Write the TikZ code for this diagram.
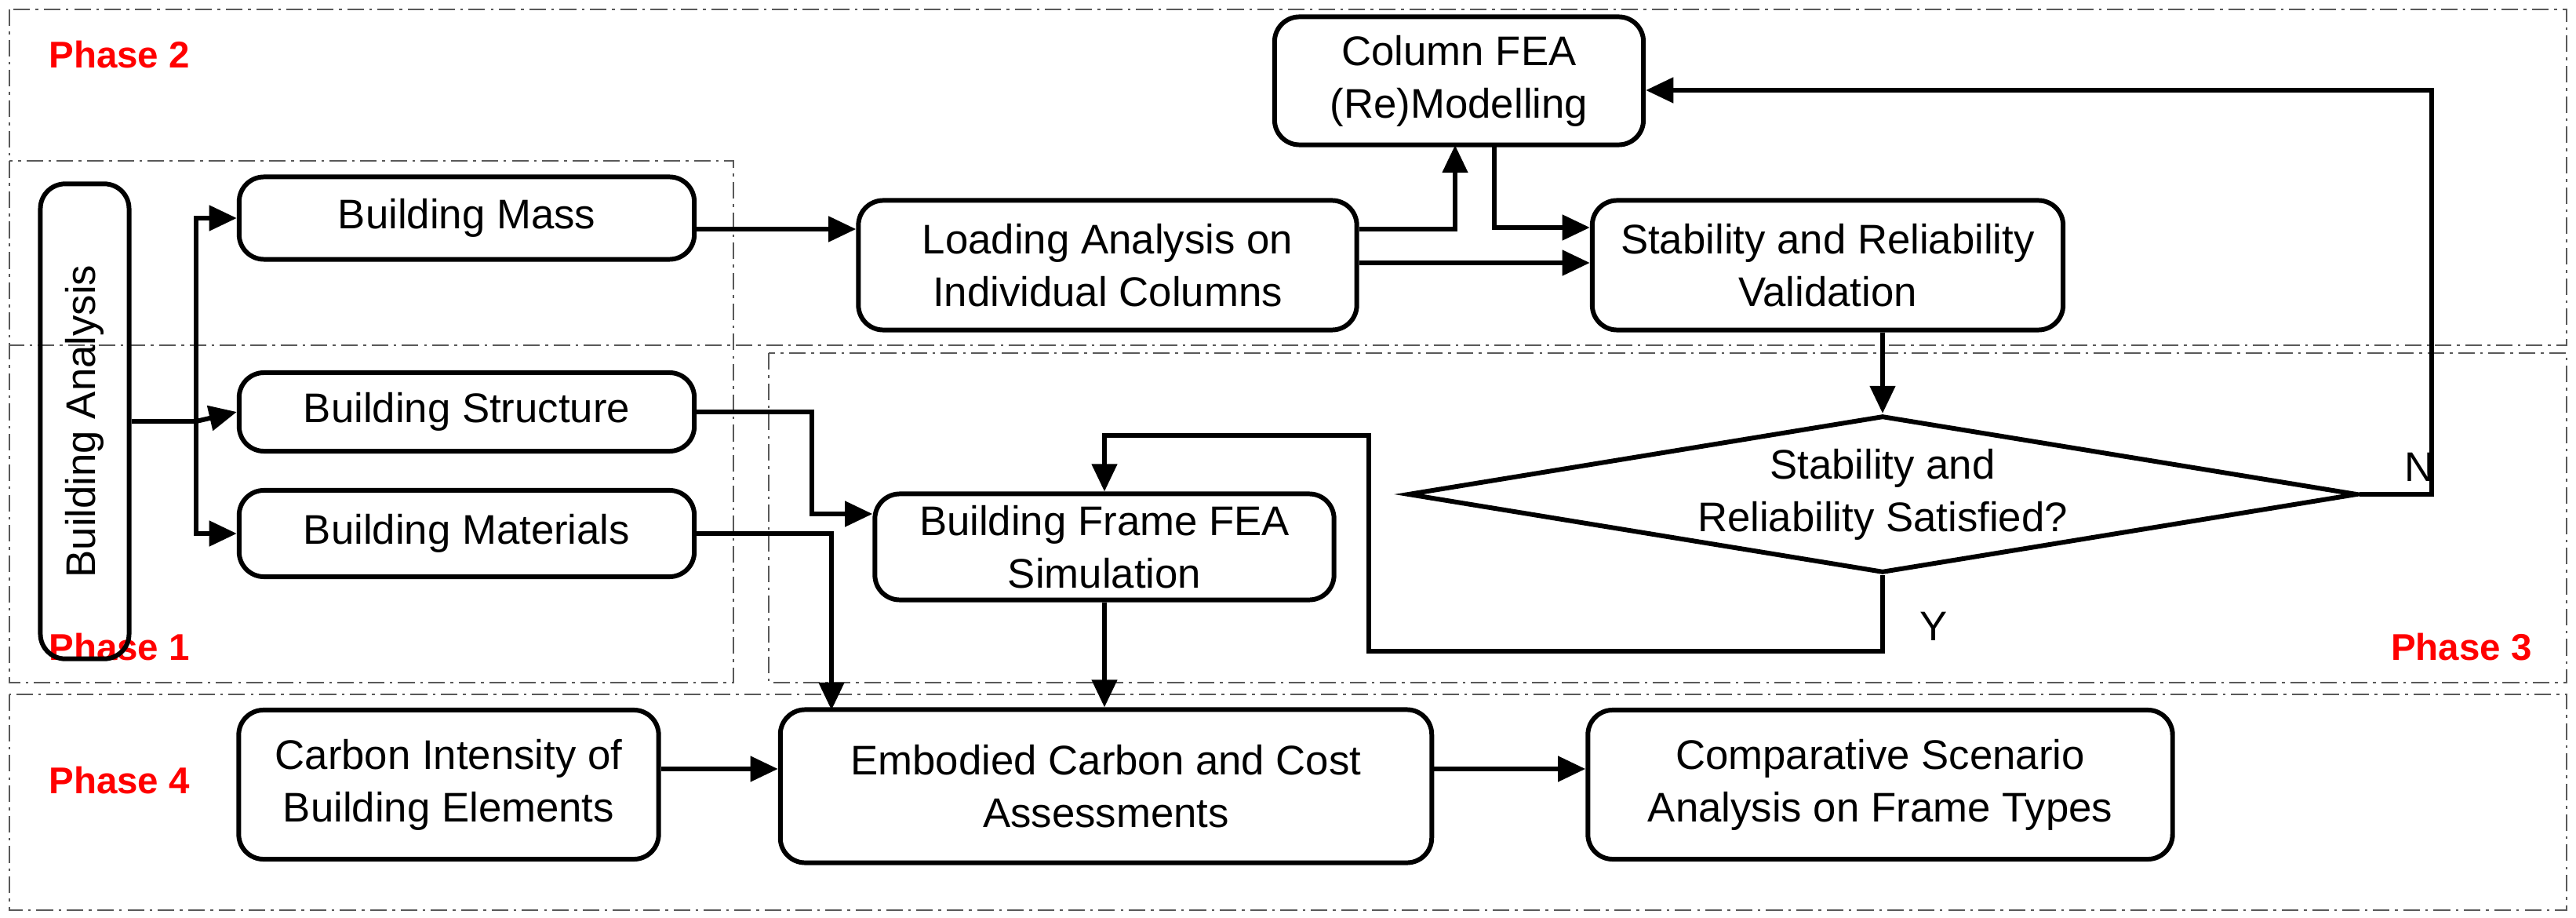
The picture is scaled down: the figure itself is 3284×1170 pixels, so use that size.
\documentclass[tikz,border=0pt]{standalone}
\usepackage{fontspec}
\setmainfont{Liberation Sans}
\usetikzlibrary{shapes.geometric,arrows.meta}
\begin{document}
\begin{tikzpicture}[x=0.01cm,y=-0.01cm,
  box/.style={draw,line width=1.7pt,rounded corners=9pt,align=center,font=\fontsize{15}{19}\selectfont,inner sep=0pt},
  arr/.style={line width=1.7pt,-{Triangle[length=10pt,width=9pt]}},
  ln/.style={line width=1.7pt},
  zone/.style={draw,gray!70!black,line width=0.6pt,dash pattern=on 6pt off 2pt on 1pt off 2pt},
  ph/.style={text=red,font=\fontsize{13.5}{16}\selectfont\bfseries}]
\useasboundingbox (0,0) rectangle (3284,1170);
\draw[zone] (12,12) rectangle (3272,440);
\draw[zone] (12,205) rectangle (935,870);
\draw[zone] (980,450) rectangle (3272,870);
\draw[zone] (12,885) rectangle (3272,1160);
\node[ph,anchor=west] (p2) at (50,70) {Phase 2};
\node[ph,anchor=west] (p1) at (50,825) {Phase 1};
\node[ph,anchor=east] (p3) at (3240,825) {Phase 3};
\node[ph,anchor=west] (p4) at (50,995) {Phase 4};
% nodes
\node[box,rotate=90,minimum width=6.05cm,minimum height=1.13cm] (ba) at (108,537) {Building Analysis};
\node[box,minimum width=5.8cm,minimum height=1.05cm] (bm) at (595,278) {Building Mass};
\node[box,minimum width=5.8cm,minimum height=1.0cm] (bs) at (595,525) {Building Structure};
\node[box,minimum width=5.8cm,minimum height=1.1cm] (bmat) at (595,680) {Building Materials};
\node[box,minimum width=6.35cm,minimum height=1.65cm] (la) at (1412,338) {Loading Analysis on\\Individual Columns};
\node[box,minimum width=4.7cm,minimum height=1.63cm] (col) at (1860,103) {Column FEA\\(Re)Modelling};
\node[box,minimum width=6.0cm,minimum height=1.65cm] (sv) at (2330,338) {Stability and Reliability\\Validation};
\node[draw,line width=1.7pt,diamond,aspect=6.05,inner sep=0pt,minimum width=12.1cm,minimum height=2.0cm] (dm) at (2400,630) {};
\node[align=center,font=\fontsize{15}{19}\selectfont] (dmt) at (2400,630) {Stability and\\Reliability Satisfied?};
\node[box,minimum width=5.85cm,minimum height=1.35cm] (ff) at (1408,697) {Building Frame FEA\\Simulation};
\node[box,minimum width=8.3cm,minimum height=1.95cm] (ec) at (1410,1002) {Embodied Carbon and Cost\\Assessments};
\node[box,minimum width=5.35cm,minimum height=1.9cm] (ci) at (572,1000) {Carbon Intensity of\\Building Elements};
\node[box,minimum width=7.45cm,minimum height=1.9cm] (cs) at (2397,1000) {Comparative Scenario\\Analysis on Frame Types};
% connectors
\coordinate (j) at (250,537);
\draw[ln] (ba.south) -- (j);
\draw[arr] (j) |- (bm.west);
\draw[arr] (j) -- (bs.west);
\draw[arr] (j) |- (bmat.west);
\draw[arr] (bm.east |- 0,292) -- (la.west |- 0,292);
\draw[arr] (la.east |- 0,292) -| (1855,185);
\draw[arr] (la.east |- 0,335) -- (sv.west |- 0,335);
\draw[arr] (1905,185) |- (sv.west |- 0,290);
\draw[arr] (sv.south -| dm.north) -- (dm.north);
\draw[arr] (dm.east) -| (3100,115) -- (col.east |- 0,115);
\node[font=\fontsize{15}{19}\selectfont] (nl) at (3085,595) {N};
\draw[arr] (dm.south) -- (2400,830) -| (1745,555) -| (ff.north);
\node[font=\fontsize{15}{19}\selectfont] (yl) at (2465,798) {Y};
\draw[arr] (bs.east) -| (1035,655) -- (ff.west |- 0,655);
\draw[arr] (bmat.east) -| (1060,905);
\draw[arr] (ff.south) -- (ff.south |- ec.north);
\draw[arr] (ci.east |- 0,980) -- (ec.west |- 0,980);
\draw[arr] (ec.east |- 0,980) -- (cs.west |- 0,980);
\end{tikzpicture}
\end{document}
